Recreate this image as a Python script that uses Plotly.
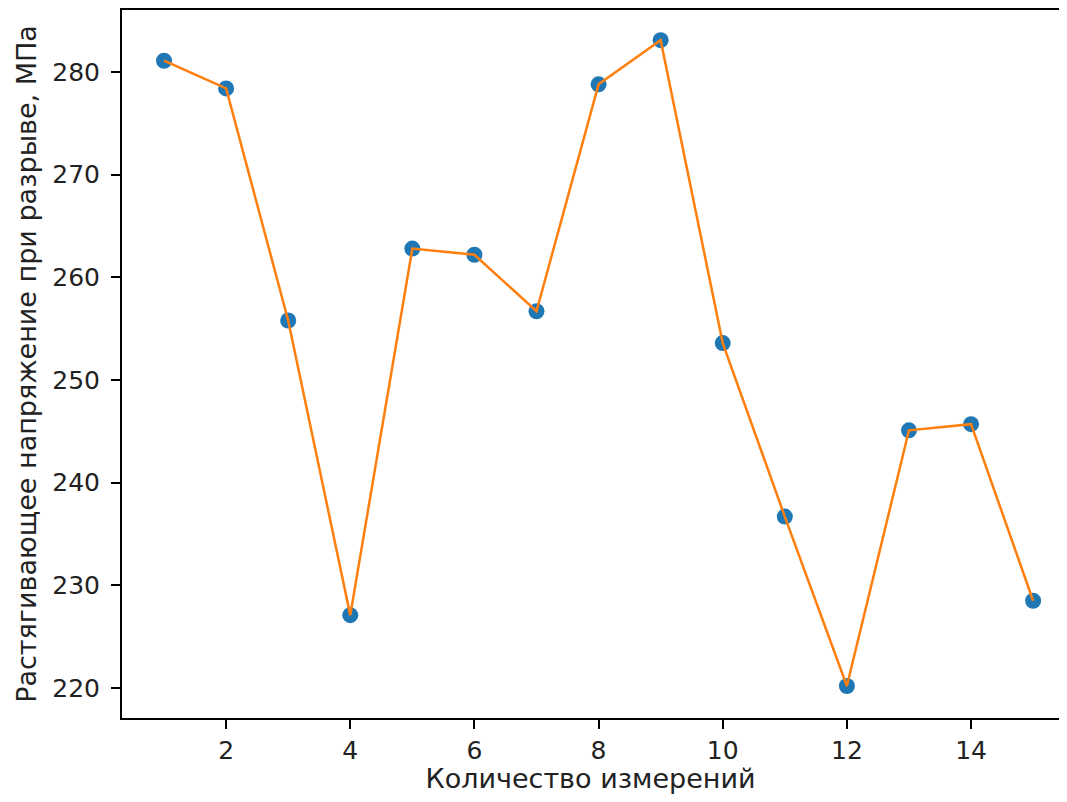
import plotly.graph_objects as go

measurements = list(range(1, 16))
stress = [281.1, 278.4, 255.8, 227.1, 262.8, 262.2, 256.7, 278.8, 283.1, 253.6, 236.7, 220.2, 245.1, 245.7, 228.5]
x_ticks = [2, 4, 6, 8, 10, 12, 14]
y_ticks = [220, 230, 240, 250, 260, 270, 280]

fig = go.Figure()
fig.add_trace(go.Scatter(x=measurements, y=stress, mode="markers",
                         marker=dict(color="#1f77b4", size=16, line=dict(width=0)),
                         showlegend=False))
fig.add_trace(go.Scatter(x=measurements, y=stress, mode="lines",
                         line=dict(color="#ff7f0e", width=2.5),
                         showlegend=False))

axis_common = dict(showline=True, linecolor="black", linewidth=2, showgrid=False,
                   zeroline=False, ticks="outside", ticklen=9, tickwidth=1.5,
                   tickcolor="black",
                   tickfont=dict(family="DejaVu Sans", size=25, color="#222"))

fig.update_xaxes(range=[0.323, 15.417], tickvals=x_ticks, mirror=True,
                 ticklabelstandoff=0,
                 title=dict(text="Количество измерений",
                            font=dict(family="DejaVu Sans", size=27, color="#222"),
                            standoff=6),
                 **axis_common)
fig.update_yaxes(range=[217.08, 286.04], tickvals=y_ticks, mirror=False,
                 ticklabelstandoff=6,
                 title=dict(text="Растягивающее напряжение при разрыве, МПа",
                            font=dict(family="DejaVu Sans", size=27, color="#222"),
                            standoff=8),
                 **axis_common)

fig.update_layout(width=1051, height=786,
                  margin=dict(l=114, r=0, t=2, b=76),
                  plot_bgcolor="white", paper_bgcolor="white")

fig.write_html("out.html")
